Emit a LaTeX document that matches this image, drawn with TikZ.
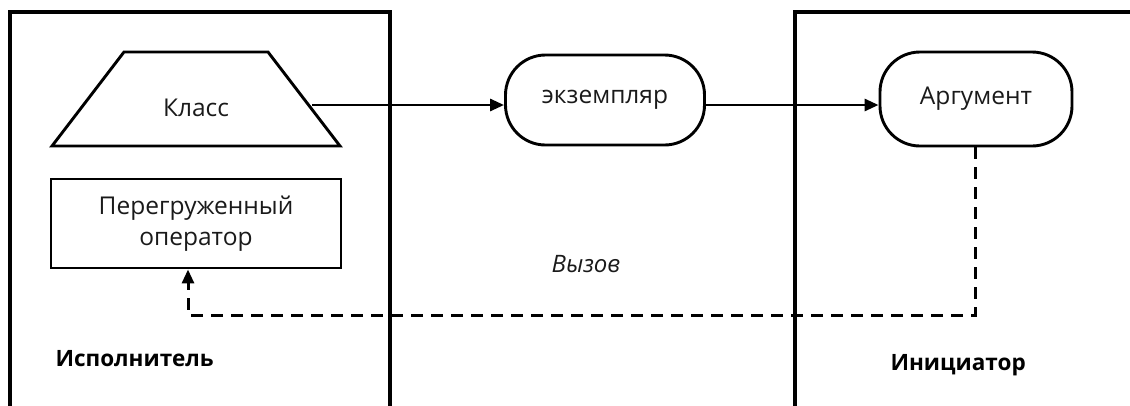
\documentclass[tikz,border=0pt]{standalone}
\usepackage{fontspec}
\setmainfont{Open Sans}
\usetikzlibrary{arrows.meta}
\definecolor{ink}{HTML}{1A1A1A}
\begin{document}
\begin{tikzpicture}[x=1pt,y=-1pt,
  lane/.style={line width=3.4pt,line cap=rect},
  shapeline/.style={line width=2.9pt},
  lbl/.style={font=\fontsize{24.5}{30}\selectfont,text=ink},
  bold lbl/.style={font=\fontsize{22.5}{28}\selectfont\bfseries,text=black},
  term/.style={shapeline,draw,rounded corners=40pt,text=ink,font=\fontsize{24.5}{30}\selectfont},
  flow/.style={line width=2.9pt,-{Triangle[length=14pt,width=12pt]}},
  ret/.style={line width=3pt,dash pattern=on 12pt off 8pt,-{Triangle[length=14pt,width=12pt]}}
]
\useasboundingbox (0,0) rectangle (1130,405);
% swim lanes (open at the bottom edge)
\draw[lane] (10,410) -- (10,12) -- (390,12) -- (390,410);
\draw[lane] (795,410) -- (795,12) -- (1140,12);
% class trapezium
\draw[shapeline,line join=miter] (52,146) -- (124,52) -- (268,52) -- (340,146) -- cycle;
\node[lbl] (klass) at (196,108) {Класс};
\coordinate (klassE) at (312,105);
% overloaded operator
\node[shapeline,draw,minimum width=290pt,minimum height=89pt,inner sep=0pt,
      lbl,align=center] (op) at (196,223.5)
  {Перегруженный\\[1pt]оператор};
% instance and argument
\node[term,minimum width=199pt,minimum height=90pt] (inst) at (605,100) {экземпляр};
\node[term,minimum width=192pt,minimum height=94pt] (arg) at (976,99) {Аргумент};
% connectors
\draw[flow] (klassE) -- (klassE -| inst.west);
\draw[flow] (inst.east |- klassE) -- (arg.west |- klassE);
\coordinate (turnR) at (975,315);
\coordinate (turnL) at (188,315);
\draw[ret] (arg.south -| turnR) -- (turnR) -- (turnL) -- (turnL |- op.south);
% labels
\node[font=\fontsize{24}{30}\selectfont\itshape,text=ink] (call) at (586,264) {Вызов};
\node[bold lbl,anchor=west] (exec) at (52,359) {Исполнитель};
\node[bold lbl,anchor=west] (init) at (887,365) {Инициатор};
\end{tikzpicture}
\end{document}
